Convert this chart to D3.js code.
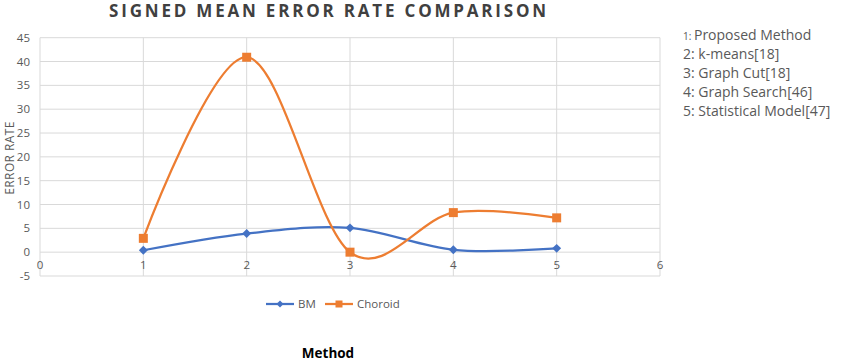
<!DOCTYPE html>
<html>
<head>
<meta charset="utf-8">
<script src="https://cdn.jsdelivr.net/npm/d3@7"></script>
<style>
  body { margin: 0; background: #fff; }
  text { font-family: 'Open Sans', 'Noto Sans', sans-serif; }
</style>
</head>
<body>
<div id="chart"></div>
<script>
const methods = [1, 2, 3, 4, 5]
const bmValues = [0.4, 3.9, 5.1, 0.5, 0.8]
const choroidValues = [2.9, 40.9, 0.0, 8.3, 7.2]
const yTicks = [-5, 0, 5, 10, 15, 20, 25, 30, 35, 40, 45]
const xTicks = [0, 1, 2, 3, 4, 5, 6]
const notes = [
  { num: '1:', label: 'Proposed Method' },
  { num: '2:', label: 'k-means[18]' },
  { num: '3:', label: 'Graph Cut[18]' },
  { num: '4:', label: 'Graph Search[46]' },
  { num: '5:', label: 'Statistical Model[47]' }
]
const series = [
  { name: 'BM', color: '#4472C4', marker: 'diamond', values: bmValues },
  { name: 'Choroid', color: '#ED7D31', marker: 'square', values: choroidValues }
]

const width = 841
const height = 361

const svg = d3.select('#chart')
  .append('svg')
  .attr('width', width)
  .attr('height', height)

const xScale = d3.scaleLinear().domain([0, 6]).range([40, 660])
const yScale = d3.scaleLinear().domain([-5, 45]).range([276, 37.7])

// grid
svg.append('g')
  .selectAll('line')
  .data(yTicks)
  .enter().append('line')
  .attr('x1', xScale(0))
  .attr('x2', xScale(6))
  .attr('y1', d => yScale(d))
  .attr('y2', d => yScale(d))
  .attr('stroke', '#d9d9d9')
  .attr('stroke-width', 1)

svg.append('g')
  .selectAll('line')
  .data(xTicks)
  .enter().append('line')
  .attr('x1', d => xScale(d))
  .attr('x2', d => xScale(d))
  .attr('y1', yScale(45))
  .attr('y2', yScale(-5))
  .attr('stroke', '#d9d9d9')
  .attr('stroke-width', 1)

// y tick labels
svg.append('g')
  .selectAll('text')
  .data(yTicks)
  .enter().append('text')
  .attr('x', 30)
  .attr('y', d => yScale(d))
  .attr('dy', '0.35em')
  .attr('text-anchor', 'end')
  .attr('font-size', '11.5px')
  .attr('fill', '#595959')
  .text(d => d)

// x tick labels (axis crosses at 0)
svg.append('g')
  .selectAll('text')
  .data(xTicks)
  .enter().append('text')
  .attr('x', d => xScale(d))
  .attr('y', yScale(0) + 17)
  .attr('text-anchor', 'middle')
  .attr('font-size', '11.5px')
  .attr('fill', '#595959')
  .text(d => d)

// lines
const line = d3.line()
  .x((d, i) => xScale(methods[i]))
  .y(d => yScale(d))
  .curve(d3.curveCardinal.tension(0))

svg.selectAll('.line')
  .data(series)
  .enter().append('path')
  .attr('class', 'line')
  .attr('fill', 'none')
  .attr('stroke', d => d.color)
  .attr('stroke-width', 2.25)
  .attr('d', d => line(d.values))

const diamond = d3.symbol().type(d3.symbolSquare).size(40)
const square = d3.symbol().type(d3.symbolSquare).size(81)
const markerTransform = s => s.marker === 'diamond' ? ' rotate(45)' : ''

series.forEach(s => {
  svg.selectAll(`.pt-${s.name}`)
    .data(s.values)
    .enter().append('path')
    .attr('class', `pt-${s.name}`)
    .attr('transform', (d, i) => `translate(${xScale(methods[i])},${yScale(d)})${markerTransform(s)}`)
    .attr('d', s.marker === 'diamond' ? diamond : square)
    .attr('fill', s.color)
})

// title
svg.append('text')
  .attr('x', 329)
  .attr('y', 17)
  .attr('text-anchor', 'middle')
  .attr('font-size', '17px')
  .attr('font-weight', 'bold')
  .attr('letter-spacing', '2.8px')
  .attr('fill', '#404040')
  .text('SIGNED MEAN ERROR RATE COMPARISON')

// y axis title
svg.append('text')
  .attr('transform', 'translate(14,158) rotate(-90)')
  .attr('text-anchor', 'middle')
  .attr('font-size', '12px')
  .attr('letter-spacing', '0.4px')
  .attr('fill', '#595959')
  .text('ERROR  RATE')

// x axis title
svg.append('text')
  .attr('x', 328)
  .attr('y', 358)
  .attr('text-anchor', 'middle')
  .attr('font-size', '13.5px')
  .attr('font-weight', 'bold')
  .attr('fill', '#000')
  .text('Method')

// legend
const legendPos = [266, 325]
series.forEach((s, i) => {
  const g = svg.append('g').attr('transform', `translate(${legendPos[i]},304)`)
  g.append('line')
    .attr('x1', 0).attr('x2', 28)
    .attr('y1', 0).attr('y2', 0)
    .attr('stroke', s.color)
    .attr('stroke-width', 2.25)
  g.append('path')
    .attr('transform', `translate(14,0)${markerTransform(s)}`)
    .attr('d', s.marker === 'diamond' ? d3.symbol().type(d3.symbolSquare).size(25) : d3.symbol().type(d3.symbolSquare).size(49))
    .attr('fill', s.color)
  g.append('text')
    .attr('x', 32)
    .attr('y', 0)
    .attr('dy', '0.35em')
    .attr('font-size', '11.5px')
    .attr('fill', '#595959')
    .text(s.name)
})

// method notes
const notesG = svg.append('g')
notes.forEach((n, i) => {
  const t = notesG.append('text')
    .attr('x', 683)
    .attr('y', 35 + i * 19)
    .attr('dy', '0.35em')
    .attr('font-size', '14px')
    .attr('fill', '#595959')
  t.append('tspan')
    .attr('font-size', i === 0 ? '10px' : '14px')
    .text(n.num + ' ')
  t.append('tspan').text(n.label)
})
</script>
</body>
</html>
